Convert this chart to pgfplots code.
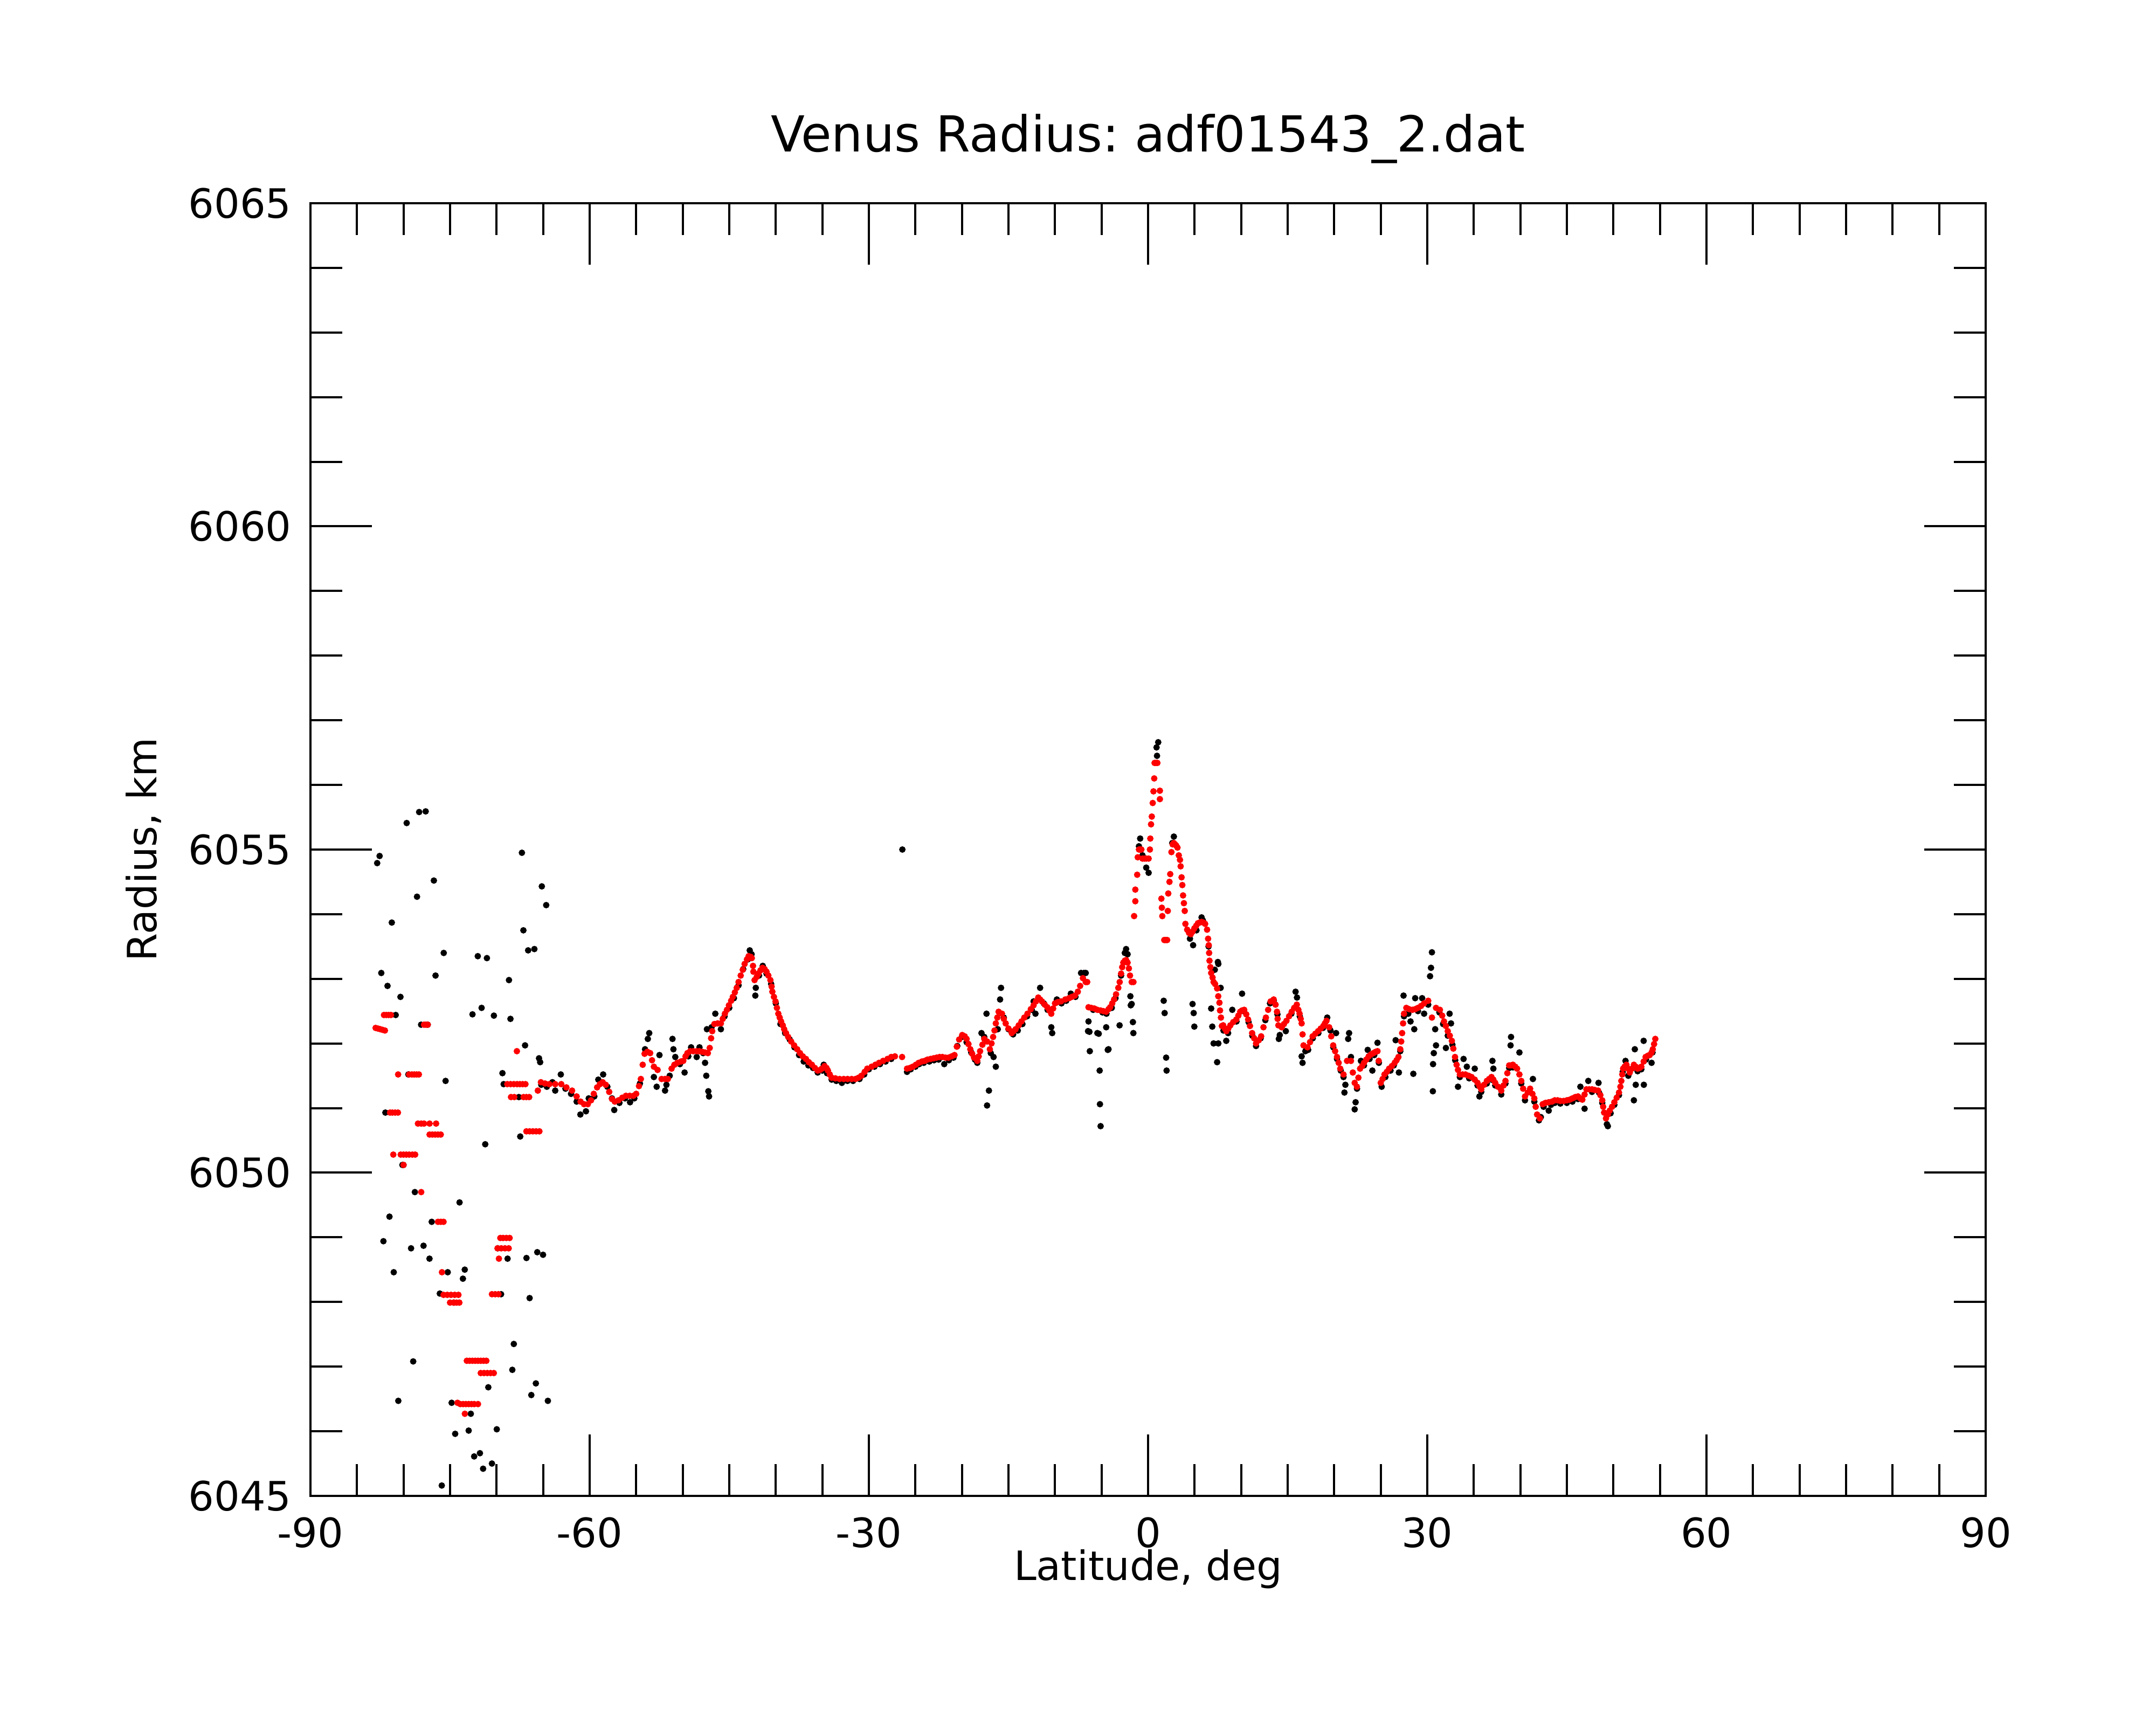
\documentclass[border=0pt]{standalone}
\usepackage{pgfplots}
\usepackage{pgfplotstable}
\pgfplotsset{compat=1.18}
\usepackage{fontspec}
\setmainfont{DejaVu Sans}
\begin{document}
\frenchspacing
\pgfplotstableread{
x y
-82.83 6054.79
-82.57 6054.90
-82.39 6053.09
-81.72 6052.89
-80.33 6052.72
-81.26 6053.87
-80.84 6052.44
-81.95 6050.93
-79.66 6055.41
-78.32 6055.58
-77.62 6055.59
-78.55 6054.27
-76.74 6054.52
-75.68 6053.40
-76.56 6053.05
-78.11 6052.29
-79.48 6051.52
-75.48 6051.42
-80.12 6050.12
-78.78 6049.70
-81.51 6049.32
-82.16 6048.94
-79.19 6048.83
-77.85 6048.87
-77.21 6048.67
-76.97 6049.24
-73.98 6049.54
-81.05 6048.46
-75.25 6048.46
-73.42 6048.50
-73.62 6048.36
-76.10 6048.13
-74.60 6047.99
-78.96 6047.08
-80.56 6046.47
-74.83 6046.44
-72.77 6046.27
-74.45 6045.96
-73.00 6046.01
-72.41 6045.61
-71.79 6045.66
-71.45 6045.42
-70.50 6045.50
-75.89 6045.16
-69.98 6046.03
-70.89 6046.68
-68.15 6047.35
-68.31 6046.95
-65.78 6046.74
-66.27 6046.56
-64.49 6046.47
-69.52 6048.12
-68.82 6048.67
-69.88 6048.83
-66.79 6048.68
-65.63 6048.77
-65.01 6048.73
-66.45 6048.06
-71.22 6050.44
-67.46 6050.56
-72.59 6052.45
-71.61 6052.55
-72.02 6053.35
-71.04 6053.32
-70.29 6052.43
-68.67 6052.98
-68.51 6052.38
-67.28 6054.95
-67.12 6053.75
-66.61 6053.44
-65.94 6053.46
-65.14 6054.43
-64.67 6054.14
-66.94 6051.97
-65.44 6051.77
-65.32 6051.71
-69.37 6051.54
-69.24 6051.37
-67.61 6051.17
-77.40 6052.29
-80.00 6050.12
-65.2 6051.36
-64.6 6051.33
-64.0 6051.40
-63.7 6051.27
-63.1 6051.52
-62.6 6051.30
-62.0 6051.22
-61.4 6051.10
-61.0 6050.90
-60.4 6050.95
-60.1 6051.15
-59.5 6051.18
-59.07 6051.44
-58.55 6051.52
-58.1 6051.33
-57.6 6051.15
-57.36 6050.97
-56.8 6051.08
-56.2 6051.15
-55.66 6051.09
-55.2 6051.15
-54.6 6051.38
-54.05 6051.91
-53.75 6052.07
-53.6 6052.16
-53.1 6051.48
-52.8 6051.33
-52.5 6051.82
-51.9 6051.27
-51.75 6051.36
-51.4 6051.50
-51.1 6052.07
-51.0 6051.91
-50.8 6051.79
-50.3 6051.68
-49.8 6051.55
-49.4 6051.80
-49.1 6051.94
-48.5 6051.79
-48.2 6051.94
-47.8 6051.85
-47.6 6051.70
-47.47 6051.50
-47.17 6051.18
-47.25 6051.26
-47.4 6052.22
-46.9 6052.25
-46.5 6052.46
-45.9 6052.22
-45.5 6052.42
-45.0 6052.55
-44.5 6052.70
-44.0 6052.90
-43.5 6053.15
-43.0 6053.30
-42.8 6053.44
-42.6 6053.38
-42.2 6052.74
-42.15 6052.86
-41.8 6053.05
-41.4 6053.20
-41.0 6053.08
-40.5 6052.92
-40.0 6052.62
-39.5 6052.30
-39.0 6052.16
-38.5 6052.06
-38.0 6051.94
-37.5 6051.82
-37.0 6051.72
-36.5 6051.66
-36.0 6051.62
-35.5 6051.55
-35.0 6051.58
-34.85 6051.67
-34.5 6051.54
-34.0 6051.44
-33.5 6051.42
-32.9 6051.39
-32.3 6051.42
-31.7 6051.42
-31.0 6051.45
-30.5 6051.52
-30.0 6051.60
-29.4 6051.64
-28.8 6051.68
-28.2 6051.72
-27.6 6051.76
-26.4 6055.00
-25.9 6051.56
-25.5 6051.60
-25.0 6051.64
-24.6 6051.68
-24.1 6051.70
-23.5 6051.72
-23.0 6051.74
-22.5 6051.75
-21.9 6051.68
-21.4 6051.74
-20.9 6051.78
-20.5 6051.96
-20.0 6052.10
-19.5 6052.02
-19.0 6051.86
-18.6 6051.75
-18.35 6051.70
-17.9 6052.16
-17.6 6052.10
-17.36 6052.46
-17.1 6051.27
-17.3 6051.04
-16.9 6051.85
-16.6 6051.79
-16.36 6051.64
-16.15 6052.22
-15.9 6052.68
-15.8 6052.86
-15.5 6052.40
-15.0 6052.22
-14.5 6052.14
-14.0 6052.20
-13.5 6052.30
-13.0 6052.42
-12.5 6052.52
-12.3 6052.65
-12.1 6052.46
-11.6 6052.86
-11.2 6052.62
-10.8 6052.52
-10.4 6052.25
-10.3 6052.16
-9.8 6052.68
-9.3 6052.62
-8.8 6052.66
-8.3 6052.77
-7.8 6052.72
-7.2 6053.09
-6.9 6053.09
-6.7 6053.09
-6.45 6052.19
-6.4 6052.34
-6.3 6052.18
-6.26 6051.88
-5.9 6052.52
-5.45 6052.16
-5.3 6052.15
-5.2 6051.58
-5.17 6051.06
-5.1 6050.72
-4.9 6052.48
-4.5 6052.25
-4.47 6052.46
-4.33 6051.90
-4.25 6051.91
-3.9 6052.55
-3.5 6052.70
-3.06 6052.28
-2.9 6053.05
-2.5 6053.40
-2.36 6053.46
-2.2 6053.38
-1.9 6052.73
-1.86 6052.59
-1.76 6052.61
-1.63 6052.33
-1.58 6052.16
1.09 6056.66
0.91 6056.58
0.96 6056.45
-0.85 6055.17
-0.98 6055.05
-0.6 6054.91
-0.2 6054.72
0.06 6054.64
2.77 6055.20
2.6 6055.10
1.68 6052.66
1.78 6052.47
1.94 6051.78
1.99 6051.58
4.78 6052.61
4.9 6052.47
4.97 6052.26
4.84 6053.52
4.5 6053.62
5.2 6053.75
5.75 6053.95
5.9 6053.90
6.5 6053.50
7.55 6053.23
7.17 6053.14
7.5 6053.26
6.78 6052.54
6.9 6052.26
7.04 6052.00
7.55 6052.00
7.42 6051.71
7.8 6052.86
8.4 6052.04
8.1 6052.20
8.6 6052.16
9.05 6052.52
9.5 6052.34
10.1 6052.77
10.3 6052.50
10.8 6052.33
11.2 6052.12
11.6 6051.96
12.1 6052.08
12.6 6052.36
13.1 6052.62
13.5 6052.66
13.9 6052.45
14.15 6052.13
14.05 6052.07
14.8 6052.19
15.4 6052.46
15.85 6052.80
16.0 6052.71
16.3 6052.42
16.6 6051.70
16.5 6051.80
16.9 6051.88
17.2 6051.90
17.7 6052.08
18.3 6052.16
18.8 6052.24
19.25 6052.40
19.6 6052.20
20.2 6052.16
19.9 6051.94
20.3 6051.76
20.7 6051.58
21.0 6051.48
21.1 6051.24
21.2 6051.36
21.5 6052.07
21.6 6052.16
21.8 6051.79
22.2 6050.98
22.3 6051.09
22.45 6051.30
22.87 6051.73
23.2 6051.66
23.6 6051.90
23.8 6051.76
24.1 6051.58
24.3 6051.82
24.65 6052.01
24.8 6051.70
25.1 6051.33
25.5 6051.48
26.05 6051.58
26.4 6051.66
26.6 6052.05
26.95 6051.55
27.1 6051.88
27.45 6052.74
27.5 6052.42
27.96 6052.46
28.2 6052.34
28.5 6051.53
28.6 6052.22
28.7 6052.70
29.0 6052.50
29.45 6052.70
29.66 6052.46
30.1 6052.60
30.3 6053.04
30.4 6053.17
30.5 6053.41
30.6 6051.26
30.62 6051.68
30.7 6051.85
30.94 6051.97
30.85 6052.22
31.3 6052.48
31.7 6052.30
32.0 6051.93
32.4 6052.46
32.55 6052.31
32.2 6052.12
32.7 6051.98
33.0 6051.74
33.3 6051.33
33.5 6051.48
33.9 6051.76
34.25 6051.64
34.5 6051.46
35.1 6051.61
35.4 6051.35
35.6 6051.18
35.8 6051.25
36.4 6051.38
36.9 6051.44
37.0 6051.73
37.1 6051.61
37.3 6051.35
37.95 6051.21
38.4 6051.38
38.8 6051.62
39.0 6052.10
38.95 6051.97
39.2 6051.63
39.9 6051.86
40.1 6051.38
40.5 6051.12
41.0 6051.26
41.35 6051.45
41.5 6051.10
42.0 6050.81
42.2 6050.86
42.5 6051.02
43.05 6050.96
43.3 6051.05
43.7 6051.08
44.3 6051.07
45.0 6051.08
45.6 6051.10
46.2 6051.14
46.45 6051.33
46.9 6050.99
47.3 6051.42
47.7 6051.25
48.4 6051.39
48.45 6051.24
48.8 6051.08
49.3 6050.75
49.4 6050.72
49.7 6050.92
50.1 6051.05
50.6 6051.20
51.0 6051.56
51.3 6051.73
51.6 6051.50
52.2 6051.12
52.3 6051.91
52.4 6051.36
52.6 6051.57
53.0 6051.60
53.25 6052.04
53.27 6051.36
53.5 6051.75
54.1 6051.70
54.2 6051.86
}\blackdata
\pgfplotstableread{
x y
-83.0 6052.24
-82.75 6052.23
-82.5 6052.22
-82.25 6052.21
-82.0 6052.20
-82.1 6052.44
-81.85 6052.44
-81.6 6052.44
-81.35 6052.44
-80.58 6051.52
-79.4 6051.52
-79.1 6051.52
-78.85 6051.52
-78.6 6051.52
-78.35 6051.52
-81.45 6050.93
-81.2 6050.93
-80.9 6050.93
-80.6 6050.93
-78.45 6050.76
-78.1 6050.76
-77.8 6050.76
-77.2 6050.76
-76.5 6050.76
-77.2 6050.59
-76.9 6050.59
-76.6 6050.59
-76.3 6050.59
-76.0 6050.59
-81.1 6050.28
-80.3 6050.28
-80.0 6050.28
-79.7 6050.28
-79.4 6050.28
-79.05 6050.28
-78.75 6050.28
-80.0 6050.12
-78.1 6049.70
-76.3 6049.24
-76.0 6049.24
-75.7 6049.24
-77.8 6052.29
-77.6 6052.29
-77.4 6052.29
-75.87 6048.46
-75.7 6048.11
-75.3 6048.11
-74.9 6048.11
-74.5 6048.11
-74.1 6048.11
-75.0 6047.99
-74.6 6047.99
-74.3 6047.99
-74.0 6047.99
-73.2 6047.09
-72.9 6047.09
-72.6 6047.09
-72.3 6047.09
-72.0 6047.09
-71.7 6047.09
-71.4 6047.09
-71.1 6047.09
-71.7 6046.90
-71.35 6046.90
-71.0 6046.90
-70.65 6046.90
-70.3 6046.90
-74.2 6046.44
-73.9 6046.42
-73.6 6046.42
-73.3 6046.42
-73.0 6046.42
-72.7 6046.42
-72.4 6046.42
-72.0 6046.42
-73.41 6046.27
-70.5 6048.12
-70.15 6048.12
-69.8 6048.12
-69.6 6048.99
-69.3 6048.99
-68.95 6048.99
-68.6 6048.99
-69.9 6048.83
-69.5 6048.83
-69.1 6048.83
-68.7 6048.83
-69.75 6048.67
-68.85 6051.37
-68.5 6051.37
-68.15 6051.37
-67.8 6051.37
-67.5 6051.37
-67.2 6051.37
-66.9 6051.37
-68.45 6051.17
-68.1 6051.17
-67.1 6051.17
-66.8 6051.17
-66.5 6051.17
-67.82 6051.88
-66.8 6050.64
-66.45 6050.64
-66.1 6050.64
-65.75 6050.64
-65.4 6050.64
-65.57 6051.27
-65.24 6051.40
-64.8 6051.38
-64.34 6051.37
-63.7 6051.37
-63.05 6051.37
-62.5 6051.32
-61.89 6051.27
-61.4 6051.18
-60.98 6051.10
-60.6 6051.06
-60.2 6051.06
-59.85 6051.12
-59.56 6051.22
-59.2 6051.32
-58.9 6051.37
-58.6 6051.40
-58.27 6051.36
-57.9 6051.25
-57.6 6051.14
-57.3 6051.10
-56.9 6051.12
-56.5 6051.16
-56.1 6051.19
-55.7 6051.19
-55.3 6051.19
-55.0 6051.22
-54.7 6051.34
-54.5 6051.45
-54.3 6051.67
-54.1 6051.84
-53.8 6051.87
-53.5 6051.85
-53.3 6051.74
-53.1 6051.64
-52.7 6051.59
-52.27 6051.45
-51.9 6051.45
-51.6 6051.45
-51.2 6051.61
-50.9 6051.67
-50.57 6051.70
-50.2 6051.72
-49.94 6051.73
-49.7 6051.80
-49.5 6051.85
-49.2 6051.88
-48.87 6051.88
-48.5 6051.88
-48.23 6051.88
-47.9 6051.87
-47.6 6051.86
-47.3 6051.85
-47.1 6051.93
-46.95 6052.08
-46.83 6052.19
-46.6 6052.30
-46.25 6052.31
-45.9 6052.31
-45.7 6052.38
-45.47 6052.46
-45.25 6052.52
-45.04 6052.59
-44.8 6052.66
-44.62 6052.72
-44.4 6052.79
-44.2 6052.86
-44.0 6052.95
-43.77 6053.05
-43.55 6053.14
-43.35 6053.23
-43.1 6053.30
-42.92 6053.35
-42.7 6053.34
-42.58 6053.32
-42.45 6053.20
-42.41 6053.11
-42.28 6052.98
-42.05 6053.03
-41.86 6053.08
-41.65 6053.13
-41.43 6053.17
-41.2 6053.15
-41.0 6053.11
-40.8 6053.05
-40.58 6052.98
-40.45 6052.88
-40.37 6052.80
-40.2 6052.72
-40.03 6052.65
-39.88 6052.55
-39.73 6052.46
-39.58 6052.40
-39.43 6052.34
-39.25 6052.28
-39.1 6052.22
-38.9 6052.16
-38.67 6052.10
-38.35 6052.03
-38.03 6051.97
-37.7 6051.91
-37.4 6051.85
-37.1 6051.80
-36.76 6051.76
-36.45 6051.71
-36.12 6051.67
-35.8 6051.62
-35.5 6051.58
-35.25 6051.59
-35.05 6051.61
-34.76 6051.65
-34.55 6051.62
-34.4 6051.58
-34.2 6051.52
-34.0 6051.47
-33.6 6051.46
-33.14 6051.45
-32.7 6051.45
-32.29 6051.45
-31.85 6051.45
-31.44 6051.45
-31.1 6051.47
-30.8 6051.50
-30.45 6051.56
-30.17 6051.61
-29.7 6051.64
-29.3 6051.67
-28.9 6051.70
-28.47 6051.73
-28.0 6051.76
-27.6 6051.79
-27.2 6051.80
-26.43 6051.79
-25.9 6051.61
-25.6 6051.62
-25.28 6051.64
-24.95 6051.67
-24.64 6051.70
-24.3 6051.72
-24.0 6051.73
-23.7 6051.75
-23.37 6051.76
-23.05 6051.77
-22.73 6051.78
-22.4 6051.79
-22.1 6051.79
-21.75 6051.78
-21.45 6051.78
-21.1 6051.80
-20.8 6051.82
-20.55 6051.95
-20.3 6052.06
-19.97 6052.13
-19.7 6052.11
-19.5 6052.07
-19.3 6051.99
-19.1 6051.91
-18.9 6051.84
-18.7 6051.78
-18.35 6051.73
-18.2 6051.80
-18.05 6051.88
-17.8 6051.98
-17.6 6052.07
-17.3 6052.03
-17.0 6051.91
-16.82 6052.00
-16.65 6052.10
-16.5 6052.20
-16.36 6052.31
-16.2 6052.40
-16.06 6052.49
-15.7 6052.46
-15.5 6052.38
-15.3 6052.31
-15.0 6052.23
-14.65 6052.16
-14.45 6052.19
-14.23 6052.22
-13.9 6052.28
-13.6 6052.34
-13.3 6052.40
-12.96 6052.46
-12.6 6052.53
-12.3 6052.59
-12.05 6052.65
-11.8 6052.71
-11.6 6052.68
-11.4 6052.65
-11.1 6052.60
-10.83 6052.56
-10.6 6052.51
-10.4 6052.46
-10.2 6052.54
-10.0 6052.62
-9.7 6052.64
-9.35 6052.65
-8.9 6052.68
-8.5 6052.70
-8.2 6052.72
-7.86 6052.74
-7.55 6052.80
-7.3 6052.89
-7.0 6053.01
-6.7 6052.95
-6.54 6052.95
-6.4 6052.56
-6.1 6052.55
-5.77 6052.54
-5.45 6052.52
-5.1 6052.51
-4.8 6052.50
-4.5 6052.49
-4.25 6052.53
-4.07 6052.56
-3.85 6052.62
-3.65 6052.68
-3.44 6052.76
-3.2 6052.86
-3.05 6052.95
-2.9 6053.08
-2.78 6053.18
-2.66 6053.25
-2.5 6053.28
-2.36 6053.29
-2.2 6053.25
-2.06 6053.16
-1.94 6053.05
-1.76 6052.95
-1.57 6052.95
-1.5 6053.97
-1.37 6054.20
-1.37 6054.38
-1.17 6054.61
-1.11 6054.88
-0.98 6055.00
-0.85 6055.00
-0.72 6055.00
-0.6 6054.86
-0.4 6054.86
-0.2 6054.86
0.06 6054.86
0.2 6055.00
0.24 6055.17
0.32 6055.39
0.4 6055.51
0.5 6055.72
0.58 6055.90
0.66 6056.10
0.7 6056.34
0.85 6056.34
1.0 6056.34
1.27 6055.91
1.27 6055.78
1.43 6054.24
1.48 6054.10
1.53 6053.97
1.74 6053.60
1.9 6053.60
2.05 6053.60
2.12 6054.05
2.17 6054.32
2.3 6054.50
2.38 6054.62
2.51 6054.96
2.64 6055.08
2.77 6055.10
2.9 6055.08
3.03 6055.06
3.16 6055.03
3.3 6054.91
3.43 6054.84
3.5 6054.74
3.6 6054.57
3.68 6054.45
3.76 6054.29
3.85 6054.17
3.94 6054.05
4.01 6053.85
4.2 6053.76
4.4 6053.71
4.59 6053.69
4.78 6053.73
4.97 6053.78
5.17 6053.82
5.36 6053.86
5.55 6053.87
5.75 6053.88
5.95 6053.87
6.13 6053.85
6.34 6053.76
6.45 6053.62
6.52 6053.52
6.56 6053.40
6.6 6053.28
6.7 6053.18
6.78 6053.09
6.93 6053.02
7.04 6052.95
7.2 6052.92
7.42 6052.85
7.54 6052.73
7.67 6052.63
7.73 6052.51
7.83 6052.40
7.93 6052.27
8.07 6052.28
8.25 6052.23
8.41 6052.19
8.62 6052.23
8.84 6052.28
9.15 6052.33
9.48 6052.37
9.7 6052.43
9.9 6052.49
10.1 6052.51
10.33 6052.52
10.55 6052.45
10.75 6052.37
10.95 6052.27
11.18 6052.16
11.4 6052.08
11.6 6052.00
11.9 6052.05
12.15 6052.11
12.4 6052.25
12.66 6052.40
12.9 6052.52
13.17 6052.65
13.5 6052.68
13.7 6052.60
13.85 6052.49
13.92 6052.38
14.0 6052.28
14.36 6052.25
14.6 6052.30
14.87 6052.35
15.15 6052.42
15.43 6052.49
15.7 6052.55
15.98 6052.60
16.15 6052.52
16.28 6052.46
16.4 6052.38
16.5 6052.31
16.6 6052.14
16.7 6051.97
17.13 6051.94
17.4 6052.02
17.68 6052.11
17.97 6052.15
18.27 6052.19
18.55 6052.23
18.83 6052.27
19.0 6052.31
19.17 6052.35
19.46 6052.25
19.68 6052.11
19.89 6051.97
20.1 6051.88
20.3 6051.79
20.48 6051.70
20.65 6051.61
21.0 6051.52
21.38 6051.73
21.8 6051.73
22.0 6051.55
22.2 6051.39
22.44 6051.33
22.6 6051.47
22.78 6051.61
23.0 6051.65
23.2 6051.70
23.45 6051.75
23.7 6051.80
23.95 6051.83
24.2 6051.85
24.45 6051.87
24.65 6051.88
24.78 6051.73
25.0 6051.39
25.2 6051.45
25.4 6051.52
25.65 6051.56
25.9 6051.61
26.2 6051.65
26.5 6051.70
26.7 6051.74
26.9 6051.79
27.1 6051.91
27.2 6052.03
27.3 6052.16
27.4 6052.31
27.5 6052.46
27.75 6052.55
28.05 6052.53
28.4 6052.52
28.7 6052.53
29.0 6052.55
29.33 6052.58
29.66 6052.62
30.1 6052.66
30.5 6052.40
30.94 6052.55
31.36 6052.52
31.6 6052.43
31.8 6052.34
32.0 6052.27
32.2 6052.19
32.42 6052.12
32.64 6052.04
32.8 6051.92
32.98 6051.79
33.15 6051.67
33.3 6051.59
33.5 6051.52
33.8 6051.52
34.1 6051.52
34.45 6051.50
34.76 6051.48
35.1 6051.44
35.4 6051.39
35.6 6051.34
35.8 6051.29
36.1 6051.36
36.4 6051.42
36.65 6051.45
36.9 6051.48
37.1 6051.44
37.3 6051.39
37.6 6051.33
37.95 6051.27
38.2 6051.35
38.4 6051.42
38.6 6051.54
38.8 6051.66
39.0 6051.66
39.2 6051.67
39.45 6051.64
39.65 6051.61
39.9 6051.52
40.1 6051.42
40.3 6051.30
40.5 6051.18
40.8 6051.24
41.05 6051.30
41.3 6051.22
41.5 6051.15
41.65 6051.02
41.8 6050.90
42.1 6050.84
42.4 6051.06
42.7 6051.08
43.05 6051.09
43.4 6051.10
43.7 6051.12
44.0 6051.12
44.3 6051.11
44.65 6051.11
45.0 6051.12
45.3 6051.13
45.6 6051.15
45.9 6051.17
46.2 6051.18
46.45 6051.15
46.66 6051.13
46.9 6051.21
47.1 6051.29
47.4 6051.29
47.7 6051.29
48.0 6051.28
48.36 6051.27
48.6 6051.20
48.8 6051.12
48.9 6051.02
49.0 6050.93
49.2 6050.84
49.4 6050.90
49.6 6050.96
49.85 6051.02
50.1 6051.09
50.35 6051.16
50.6 6051.24
50.75 6051.33
50.85 6051.42
50.95 6051.52
51.04 6051.61
51.2 6051.64
51.4 6051.67
51.6 6051.61
51.76 6051.55
52.0 6051.61
52.2 6051.67
52.4 6051.64
52.6 6051.61
52.8 6051.62
53.0 6051.64
53.25 6051.72
53.46 6051.79
53.7 6051.81
53.9 6051.82
54.1 6051.86
54.23 6051.91
54.37 6051.99
54.5 6052.07
}\reddata
\begin{tikzpicture}
\begin{axis}[
  scale only axis,
  width=310.8pt, height=239.8pt,
  xmin=-90, xmax=90, ymin=6045, ymax=6065,
  xtick={-90,-60,-30,0,30,60,90},
  xticklabels={-90,-60,-30,0,30,60,90},
  ytick={6045,6050,6055,6060,6065},
  yticklabels={6045,6050,6055,6060,6065},
  minor x tick num=5,
  minor y tick num=4,
  tick align=inside,
  major tick length=11.4pt,
  minor tick length=5.9pt,
  axis line style={line width=0.45pt},
  every tick/.style={black, line width=0.4pt},
  ticklabel style={font=\fontsize{7.5}{9}\selectfont},
  yticklabel style={xshift=0pt},
  xticklabel style={yshift=-0.5pt},
  title={Venus Radius: adf01543\_2.dat},
  every axis title/.style={at={(axis description cs:0.5,1.04)}, anchor=base, font=\fontsize{9.2}{11}\selectfont},
  xlabel={Latitude, deg},
  every axis x label/.style={at={(axis description cs:0.5,-0.0651)}, anchor=base, font=\fontsize{7.5}{9}\selectfont},
  ylabel={Radius, km},
  every axis y label/.style={at={(axis description cs:-0.0917,0.5)}, rotate=90, anchor=base, font=\fontsize{7.5}{9}\selectfont},
  clip=true,
]
\addplot[only marks, color=black, mark=*, mark size=0.55pt, mark options={line width=0.1pt, draw=black, fill=black}] table {\blackdata};
\addplot[only marks, color=red, mark=*, mark size=0.55pt, mark options={line width=0.1pt, draw=red, fill=red}] table {\reddata};
\end{axis}
\path ([shift={(-57.6pt,-42.5pt)}]current axis.south west) rectangle ([shift={(31.6pt,37.7pt)}]current axis.north east);
\end{tikzpicture}
\end{document}
